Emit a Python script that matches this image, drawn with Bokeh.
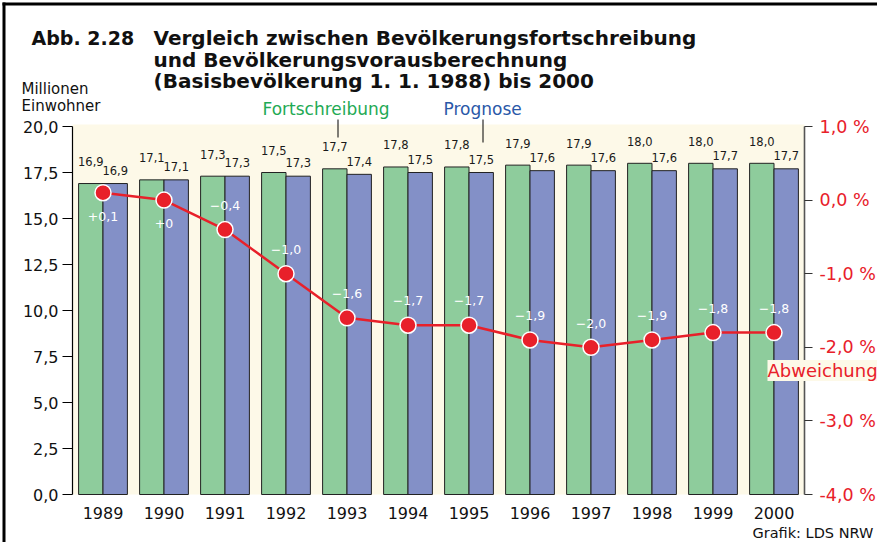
from bokeh.plotting import figure
from bokeh.models import ColumnDataSource, Range1d, LinearAxis, FixedTicker, Label
from bokeh.core.properties import value
from bokeh.embed import file_html
from bokeh.resources import INLINE

# ---------------- data ----------------
years = ["1989", "1990", "1991", "1992", "1993", "1994",
         "1995", "1996", "1997", "1998", "1999", "2000"]
fortschreibung = [16.9, 17.1, 17.3, 17.5, 17.7, 17.8, 17.8, 17.9, 17.9, 18.0, 18.0, 18.0]
prognose = [16.9, 17.1, 17.3, 17.3, 17.4, 17.5, 17.5, 17.6, 17.6, 17.6, 17.7, 17.7]
abweichung = [0.1, 0.0, -0.4, -1.0, -1.6, -1.7, -1.7, -1.9, -2.0, -1.9, -1.8, -1.8]
abweichung_labels = ["+0,1", "+0", "\u22120,4", "\u22121,0", "\u22121,6", "\u22121,7",
                     "\u22121,7", "\u22121,9", "\u22122,0", "\u22121,9", "\u22121,8", "\u22121,8"]
y_ticks = [0, 2.5, 5, 7.5, 10, 12.5, 15, 17.5, 20]
y_tick_labels = ["0,0", "2,5", "5,0", "7,5", "10,0", "12,5", "15,0", "17,5", "20,0"]
pct_ticks = [-4, -3, -2, -1, 0, 1]
pct_tick_labels = ["-4,0 %", "-3,0 %", "-2,0 %", "-1,0 %", "0,0 %", "1,0 %"]

# ---------------- style / layout ----------------
FONT = "DejaVu Sans"
CREAM = "#fdf9e8"
GREEN = "#8ecc9c"
BLUE = "#8390c7"
RED = "#e8202a"
TXT_GREEN = "#1faa55"
TXT_BLUE = "#2a58a8"

W, H = 877, 542
BL, BT = 72, 126          # plot area left / top (pixels)
FW, FH = 732, 368         # plot area width / height (pixels)
BB = H - BT - FH
Y_MIN, Y_MAX = 0.0, 20.0
P_MIN, P_MAX = -4.0, 1.0
LABEL_SHIFT = 7           # Label anchor correction (pixels)

n = len(years)
UX = FW / n
UY = FH / (Y_MAX - Y_MIN)
UP = FH / (P_MAX - P_MIN)


def dx(px):
    return (px - BL) / UX


def dy(py):
    return (BT + FH - py) / UY


def fmt(v):
    return f"{v:.1f}".replace(".", ",")


xc = [i + 0.5 for i in range(n)]

src = ColumnDataSource(dict(
    x=xc,
    x_f=[x - 0.2 for x in xc],
    x_p=[x + 0.2 for x in xc],
    fort=fortschreibung,
    prog=prognose,
    abw=abweichung,
    fort_lbl=[fmt(v) for v in fortschreibung],
    prog_lbl=[fmt(v) for v in prognose],
    abw_lbl=abweichung_labels,
    fort_ly=[v + 1.2 for v in fortschreibung],
    prog_ly=[v + 0.72 for v in prognose],
    abw_ly=[v + 0.33 if v < 0 else v - 0.32 for v in abweichung],
))

p = figure(x_range=Range1d(-BL / UX, (W - BL) / UX),
           y_range=Range1d(Y_MIN - BB / UY, Y_MAX + BT / UY),
           width=W, height=H, min_border=0, title_location=None,
           output_backend="svg", toolbar_location=None)
p.extra_y_ranges = {"pct": Range1d(P_MIN - BB / UP, P_MAX + BT / UP)}
p.background_fill_color = "white"
p.border_fill_color = "white"
p.outline_line_color = None
p.grid.visible = False

# left axis
ya = p.yaxis[0]
ya.fixed_location = 0
ya.bounds = (Y_MIN, Y_MAX)
ya.ticker = FixedTicker(ticks=y_ticks)
ya.major_label_overrides = dict(zip(y_ticks, y_tick_labels))
ya.axis_line_color = "black"
ya.axis_line_width = 1.2
ya.major_tick_line_color = "black"
ya.major_tick_line_width = 1.2
ya.major_tick_out = 10
ya.major_tick_in = 0
ya.minor_tick_line_color = None
ya.major_label_standoff = 4
ya.major_label_text_font = FONT
ya.major_label_text_font_size = "16px"
ya.major_label_text_color = "#111111"

# x axis
xa = p.xaxis[0]
xa.fixed_location = 0
xa.ticker = FixedTicker(ticks=xc)
xa.major_label_overrides = dict(zip(xc, years))
xa.axis_line_color = None
xa.major_tick_line_color = None
xa.minor_tick_line_color = None
xa.major_label_standoff = 6
xa.major_label_text_font = FONT
xa.major_label_text_font_size = "16px"
xa.major_label_text_color = "#111111"

# right axis
ra = LinearAxis(y_range_name="pct", ticker=FixedTicker(ticks=pct_ticks),
                major_label_overrides=dict(zip(pct_ticks, pct_tick_labels)))
ra.fixed_location = n
ra.bounds = (P_MIN, P_MAX)
ra.axis_line_color = "#555555"
ra.axis_line_width = 1.6
ra.major_tick_line_color = "#333333"
ra.major_tick_line_width = 1.2
ra.major_tick_out = 8
ra.major_tick_in = 0
ra.minor_tick_line_color = None
ra.major_label_standoff = 7
ra.major_label_text_font = FONT
ra.major_label_text_font_size = "17.5px"
ra.major_label_text_color = RED
p.add_layout(ra, "right")

# plot-area background
p.quad(left=0, right=n, bottom=Y_MIN, top=Y_MAX + 2 / UY, fill_color=CREAM, line_color=None)

# frame border lines of the graphic (top, left)
p.quad(left=dx(2), right=dx(W), top=dy(2), bottom=dy(5), fill_color="black", line_color=None)
p.quad(left=dx(2), right=dx(5), top=dy(2), bottom=dy(H), fill_color="black", line_color=None)

# bars
p.vbar(x="x_f", top="fort", bottom=0, width=0.4,
       fill_color=GREEN, line_color="#222222", line_width=1, source=src)
p.vbar(x="x_p", top="prog", bottom=0, width=0.4,
       fill_color=BLUE, line_color="#222222", line_width=1, source=src)

# bar value labels
p.text(x="x_f", y="fort_ly", text="fort_lbl", source=src,
       text_align="center", text_baseline="alphabetic", text_font=value(FONT),
       text_font_size="11.5px", text_color="#1a1a1a")
p.text(x="x_p", y="prog_ly", text="prog_lbl", source=src,
       text_align="center", text_baseline="alphabetic", text_font=value(FONT),
       text_font_size="11.5px", text_color="#1a1a1a")

# deviation line
p.line(x="x", y="abw", y_range_name="pct", source=src, line_color=RED, line_width=2.5)
p.scatter(x="x", y="abw", y_range_name="pct", source=src, size=16,
          fill_color=RED, line_color="white", line_width=1.5)
p.text(x="x", y="abw_ly", text="abw_lbl", y_range_name="pct", source=src,
       text_align="center", text_baseline="middle", text_font=value(FONT),
       text_font_size="12.5px", text_color="white")

# leader lines from legend texts
p.segment(x0=dx(337.5), y0=dy(119), x1=dx(337.5), y1=dy(137), line_color="black", line_width=1)
p.segment(x0=dx(482.5), y0=dy(119), x1=dx(482.5), y1=dy(142), line_color="black", line_width=1)


def add_label(px, py, text, size, color="#111111", style="normal", **kw):
    p.add_layout(Label(x=dx(px), y=dy(py - LABEL_SHIFT), text=text, text_font=FONT,
                       text_font_size=size, text_color=color, text_font_style=style,
                       text_baseline="alphabetic", text_align="left", **kw))


add_label(31, 44, "Abb. 2.28", "19px", style="bold")
add_label(153, 44, "Vergleich zwischen Bevölkerungsfortschreibung", "20px", style="bold")
add_label(153, 66, "und Bevölkerungsvorausberechnung", "20px", style="bold")
add_label(153, 87, "(Basisbevölkerung 1. 1. 1988) bis 2000", "20px", style="bold")
add_label(21, 95, "Millionen", "15px")
add_label(21, 112, "Einwohner", "15px")
add_label(262, 115, "Fortschreibung", "17px", color=TXT_GREEN)
add_label(443, 115, "Prognose", "17px", color=TXT_BLUE)
add_label(767, 377, "Abweichung", "18px", color=RED, background_fill_color=CREAM)
add_label(752, 539, "Grafik: LDS NRW", "14.5px")

open("out.html", "w").write(file_html(p, INLINE))
